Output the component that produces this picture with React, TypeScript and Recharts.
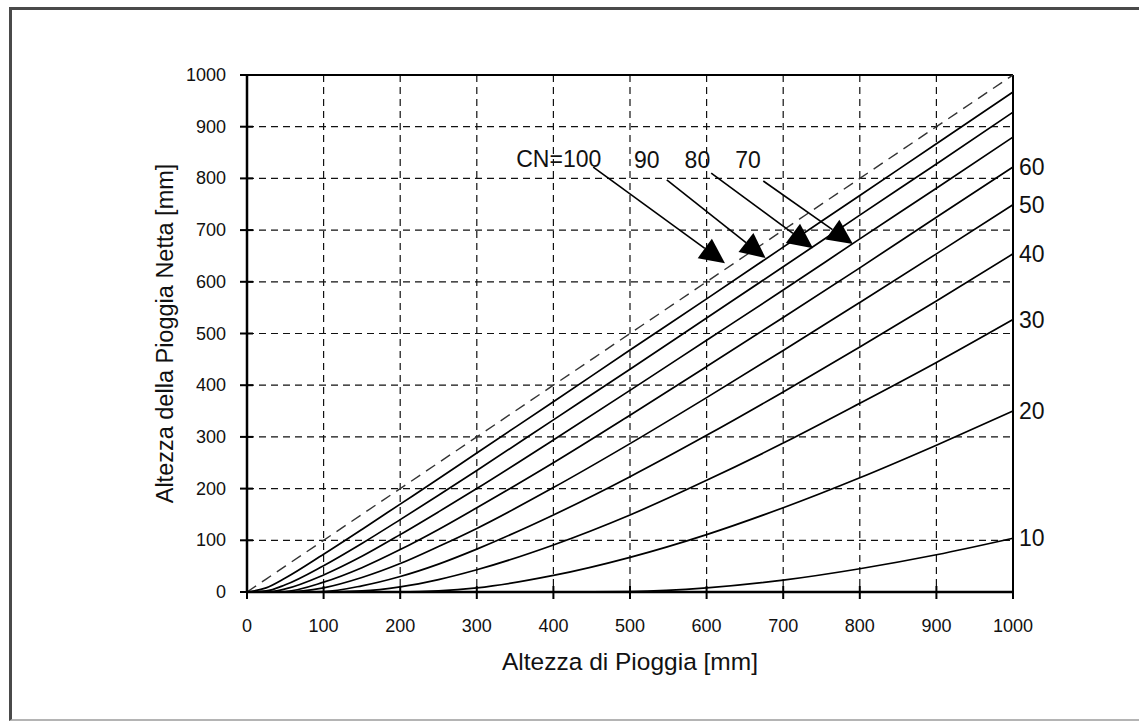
import {
  LineChart,
  Line,
  XAxis,
  YAxis,
  CartesianGrid,
  ReferenceLine,
  ReferenceDot,
} from 'recharts';

// altezza di pioggia P [mm]
const rain = [0, 25, 50, 100, 150, 200, 250, 300, 400, 500, 600, 700, 800, 900, 1000];

// pioggia netta Q [mm], per ogni CN
const cn100 = [0, 25, 50, 100, 150, 200, 250, 300, 400, 500, 600, 700, 800, 900, 1000];
const cn90 = [0, 8, 27, 73, 121, 170, 219, 269, 368, 468, 567, 667, 767, 867, 967];
const cn80 = [0, 2, 14, 51, 94, 140, 187, 235, 333, 431, 530, 629, 729, 828, 928];
const cn70 = [0, 0, 6, 33, 69, 111, 155, 200, 294, 390, 487, 584, 683, 781, 880];
const cn60 = [0, 0, 1, 19, 47, 82, 121, 163, 250, 342, 436, 531, 627, 725, 822];
const cn50 = [0, 0, 0, 8, 28, 55, 88, 123, 202, 287, 376, 467, 560, 654, 749];
const cn40 = [0, 0, 0, 1, 12, 30, 54, 83, 149, 223, 303, 387, 474, 563, 654];
const cn30 = [0, 0, 0, 0, 2, 10, 24, 43, 91, 149, 216, 288, 365, 444, 527];
const cn20 = [0, 0, 0, 0, 0, 0, 2, 8, 32, 67, 111, 163, 221, 284, 350];
const cn10 = [0, 0, 0, 0, 0, 0, 0, 0, 0, 1, 8, 23, 45, 72, 104];

const ticks = [0, 100, 200, 300, 400, 500, 600, 700, 800, 900, 1000];

// curve con etichetta a destra
const endLabelled = [
  { key: 'cn60', label: '60' },
  { key: 'cn50', label: '50' },
  { key: 'cn40', label: '40' },
  { key: 'cn30', label: '30' },
  { key: 'cn20', label: '20' },
  { key: 'cn10', label: '10' },
];

// frecce per CN=100, 90, 80, 70 (coordinate nel piano P, Q)
const arrowNotes = [
  { label: 'CN=100', textX: 407, textY: 822, fromX: 452, fromY: 822, toX: 624, toY: 636 },
  { label: '90', textX: 522, textY: 820, fromX: 548, fromY: 797, toX: 677, toY: 646 },
  { label: '80', textX: 588, textY: 820, fromX: 606, fromY: 810, toX: 739, toY: 665 },
  { label: '70', textX: 654, textY: 820, fromX: 674, fromY: 795, toX: 791, toY: 673 },
];

const data = rain.map((p, i) => ({
  p,
  cn100: cn100[i],
  cn90: cn90[i],
  cn80: cn80[i],
  cn70: cn70[i],
  cn60: cn60[i],
  cn50: cn50[i],
  cn40: cn40[i],
  cn30: cn30[i],
  cn20: cn20[i],
  cn10: cn10[i],
}));

const FONT = '"Liberation Sans", Arial, sans-serif';
const last = rain.length - 1;

function XTick({ x, y, payload }: any) {
  return (
    <g>
      <line x1={x} y1={y - 6} x2={x} y2={y + 7} stroke="#000" strokeWidth={2} />
      <text x={x} y={y + 40} textAnchor="middle" fontSize={18} fontFamily={FONT} fill="#111">
        {payload.value}
      </text>
    </g>
  );
}

function YTick({ x, y, payload }: any) {
  return (
    <g>
      <line x1={x - 7} y1={y} x2={x + 6} y2={y} stroke="#000" strokeWidth={2} />
      <text
        x={x - 21}
        y={y}
        textAnchor="end"
        dominantBaseline="central"
        fontSize={18}
        fontFamily={FONT}
        fill="#111"
      >
        {payload.value}
      </text>
    </g>
  );
}

function arrowShape(props: any) {
  const { x1, y1, x2, y2 } = props;
  const dx = x2 - x1;
  const dy = y2 - y1;
  const len = Math.hypot(dx, dy) || 1;
  const ux = dx / len;
  const uy = dy / len;
  const bx = x2 - ux * 25;
  const by = y2 - uy * 25;
  const pts = `${x2},${y2} ${bx - uy * 12},${by + ux * 12} ${bx + uy * 12},${by - ux * 12}`;
  return (
    <g>
      <line x1={x1} y1={y1} x2={bx} y2={by} stroke="#000" strokeWidth={1.6} />
      <polygon points={pts} fill="#000" />
    </g>
  );
}

function endLabel(text: string) {
  return (props: any) => {
    if (props.index !== last) return null;
    return (
      <text
        x={props.x + 6}
        y={props.y}
        dominantBaseline="central"
        fontSize={23}
        fontFamily={FONT}
        fill="#111"
      >
        {text}
      </text>
    );
  };
}

export default function App() {
  return (
    <div style={{ position: 'absolute', left: 0, top: 0, width: 1139, height: 722, background: '#fff', overflow: 'hidden' }}>
      <div
        style={{
          position: 'absolute',
          left: 9,
          top: 7,
          width: 1140,
          height: 709,
          borderTop: '3px solid #4a4a4a',
          borderLeft: '3px solid #4a4a4a',
          borderBottom: '2px solid #b4b4b4',
        }}
      />
      <div style={{ position: 'absolute', left: 0, top: 0 }}>
        <LineChart
          width={1139}
          height={722}
          data={data}
          margin={{ top: 75, right: 126, bottom: 50, left: 157 }}
        >
          <CartesianGrid stroke="#111" strokeWidth={1.2} strokeDasharray="7 5" />
          <XAxis
            dataKey="p"
            type="number"
            domain={[0, 1000]}
            ticks={ticks}
            height={80}
            tickSize={0}
            tickMargin={0}
            tickLine={false}
            axisLine={{ stroke: '#000', strokeWidth: 2.5 }}
            tick={<XTick />}
            label={{
              content: ({ viewBox }: any) => (
                <text
                  x={viewBox.x + viewBox.width / 2}
                  y={viewBox.y + 78}
                  textAnchor="middle"
                  fontSize={24.5}
                  fontFamily={FONT}
                  fill="#111"
                >
                  Altezza di Pioggia [mm]
                </text>
              ),
            }}
          />
          <YAxis
            type="number"
            domain={[0, 1000]}
            ticks={ticks}
            width={90}
            tickSize={0}
            tickMargin={0}
            tickLine={false}
            axisLine={{ stroke: '#000', strokeWidth: 2.5 }}
            tick={<YTick />}
            label={{
              content: ({ viewBox }: any) => {
                const cx = viewBox.x + 8;
                const cy = viewBox.y + viewBox.height / 2;
                return (
                  <text
                    x={cx}
                    y={cy}
                    transform={`rotate(-90 ${cx} ${cy})`}
                    textAnchor="middle"
                    dominantBaseline="central"
                    fontSize={23.5}
                    fontFamily={FONT}
                    fill="#111"
                  >
                    Altezza della Pioggia Netta [mm]
                  </text>
                );
              },
            }}
          />
          <ReferenceLine y={1000} stroke="#000" strokeWidth={2} />
          <ReferenceLine x={1000} stroke="#000" strokeWidth={2} />

          <Line
            type="monotone"
            dataKey="cn100"
            stroke="#333"
            strokeWidth={1.4}
            strokeDasharray="11 7"
            dot={false}
            isAnimationActive={false}
          />
          {['cn90', 'cn80', 'cn70'].map((k) => (
            <Line
              key={k}
              type="monotone"
              dataKey={k}
              stroke="#000"
              strokeWidth={1.7}
              dot={false}
              isAnimationActive={false}
            />
          ))}
          {endLabelled.map((s) => (
            <Line
              key={s.key}
              type="monotone"
              dataKey={s.key}
              stroke="#000"
              strokeWidth={1.7}
              dot={false}
              label={endLabel(s.label)}
              isAnimationActive={false}
            />
          ))}

          {arrowNotes.map((a) => (
            <ReferenceLine
              key={`arrow-${a.label}`}
              segment={[
                { x: a.fromX, y: a.fromY },
                { x: a.toX, y: a.toY },
              ]}
              shape={arrowShape}
            />
          ))}
          {arrowNotes.map((a) => (
            <ReferenceDot
              key={`text-${a.label}`}
              x={a.textX}
              y={a.textY}
              r={0}
              shape={(p: any) => (
                <text
                  x={p.cx}
                  y={p.cy}
                  textAnchor="middle"
                  fontSize={23}
                  fontFamily={FONT}
                  fill="#111"
                >
                  {a.label}
                </text>
              )}
            />
          ))}
        </LineChart>
      </div>
    </div>
  );
}
